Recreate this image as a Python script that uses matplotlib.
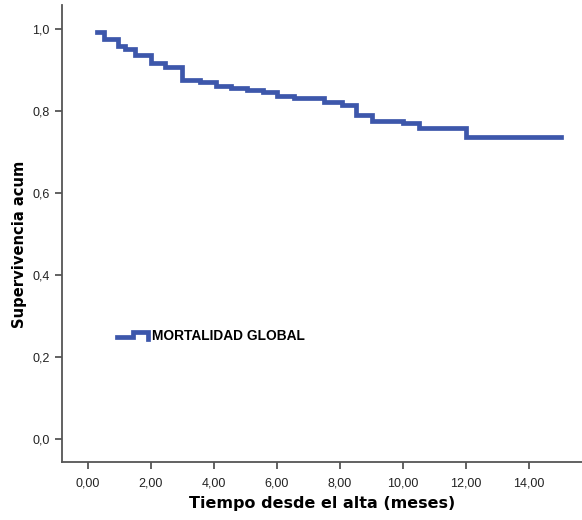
import matplotlib
matplotlib.use("Agg")
import matplotlib.pyplot as plt
import numpy as np
from matplotlib.lines import Line2D
from matplotlib.legend_handler import HandlerBase
from matplotlib.ticker import FuncFormatter

# tiempos de evento (meses) y supervivencia acumulada
tiempos = [0.28, 0.50, 0.95, 1.17, 1.50, 2.00, 2.45, 3.00, 3.55, 4.05, 4.55,
           5.05, 5.55, 6.00, 6.55, 7.50, 8.05, 8.50, 9.00, 10.00, 10.50, 12.00, 15.00]
superv = [0.992, 0.977, 0.958, 0.952, 0.938, 0.917, 0.908, 0.876, 0.871, 0.862, 0.857,
          0.852, 0.846, 0.836, 0.832, 0.823, 0.814, 0.791, 0.776, 0.771, 0.759, 0.737, 0.737]
serie = "MORTALIDAD GLOBAL"
xticks = [0, 2, 4, 6, 8, 10, 12, 14]
yticks = [0.0, 0.2, 0.4, 0.6, 0.8, 1.0]

azul = "#3d57ab"
gris = "#555555"

plt.rcParams['font.family'] = ['Liberation Sans', 'DejaVu Sans']


class StepHandler(HandlerBase):
    def create_artists(self, legend, orig_handle, xdescent, ydescent,
                       width, height, fontsize, trans):
        xs = np.array([0, 0.5, 0.5, 1.0, 1.0]) * width - xdescent
        ys = np.array([0.25, 0.25, 0.8, 0.8, 0.1]) * height - ydescent
        ln = Line2D(xs, ys, color=orig_handle.get_color(),
                    lw=orig_handle.get_linewidth(), solid_joinstyle='miter')
        ln.set_transform(trans)
        return [ln]


fig = plt.figure(figsize=(5.82, 5.2), dpi=100)
ax = fig.add_axes([0.1065, 0.1115, 0.8935, 0.879])

linea, = ax.step(tiempos, superv, where='post', color=azul, lw=3.4,
                 solid_joinstyle='miter', label=serie)

ax.set_xlim(-0.825, 15.68)
ax.set_ylim(-0.056, 1.059)
ax.set_xticks(xticks)
ax.set_yticks(yticks)
ax.xaxis.set_major_formatter(FuncFormatter(lambda v, p: f"{v:.2f}".replace('.', ',')))
ax.yaxis.set_major_formatter(FuncFormatter(lambda v, p: f"{v:.1f}".replace('.', ',')))

for s in ['top', 'right']:
    ax.spines[s].set_visible(False)
for s in ['left', 'bottom']:
    ax.spines[s].set_color(gris)
    ax.spines[s].set_linewidth(1.3)
ax.tick_params(axis='both', direction='out', length=5, width=1.3, color=gris,
               labelsize=9, labelcolor='#222222', pad=4)
ax.tick_params(axis='x', pad=6)

ax.set_xlabel("Tiempo desde el alta (meses)", fontsize=11.5, fontweight='bold',
              family=['DejaVu Sans'], labelpad=5)
ax.set_ylabel("Supervivencia acum", fontsize=10.6, fontweight='bold',
              family=['DejaVu Sans'])
ax.yaxis.set_label_coords(-0.067, 0.477)

ax.legend(handles=[linea], labels=[serie], handler_map={linea: StepHandler()},
          loc='center left', bbox_to_anchor=(0.106, 0.276), frameon=False,
          borderpad=0, borderaxespad=0, handlelength=2.25, handletextpad=0.3,
          prop={'weight': 'bold', 'size': 9.9})

fig.savefig("out.png", dpi=100)
